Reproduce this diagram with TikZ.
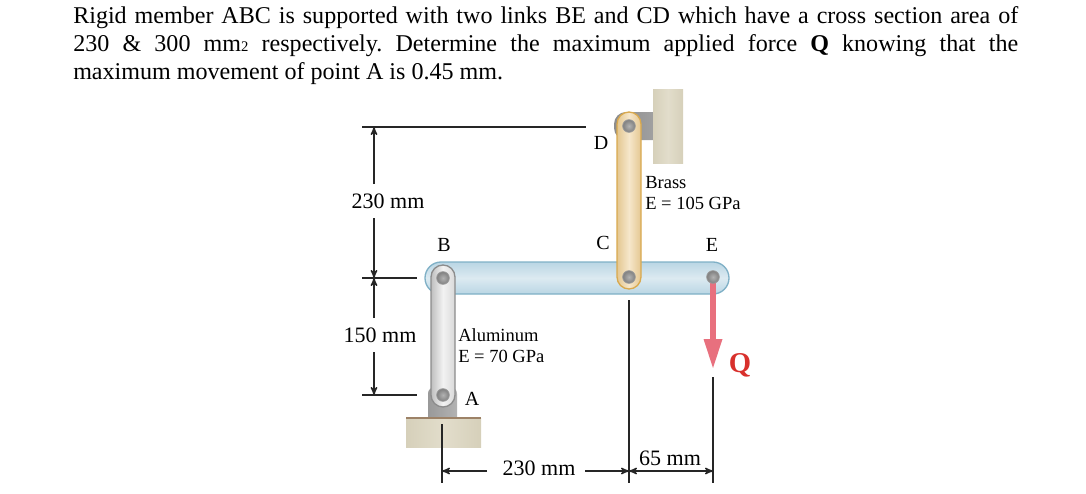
\documentclass[tikz,border=0pt]{standalone}
\usepackage{fontspec}
\setmainfont{Liberation Serif}
\usetikzlibrary{arrows,positioning}

\definecolor{walltan}{HTML}{D6D0BA}
\definecolor{walllight}{HTML}{E2DDCB}
\definecolor{beamblue}{HTML}{BAD6E4}
\definecolor{beamlight}{HTML}{DCEAF1}
\definecolor{beamedge}{HTML}{7FB0C6}
\definecolor{brassdark}{HTML}{E4C791}
\definecolor{brasslight}{HTML}{F6E7CB}
\definecolor{brassedge}{HTML}{D9A94E}
\definecolor{loadred}{HTML}{E8707E}
\definecolor{labelred}{HTML}{D8302C}

\tikzset{
  dimline/.style={draw=black!85, line width=1.1pt},
  dimarrow/.style={dimline, ->, >=stealth'},
  partlabel/.style={font=\fontsize{15}{17}\selectfont, inner sep=0pt},
  dimlabel/.style={font=\fontsize{16.5}{19}\selectfont, inner sep=0pt},
  matlabel/.style={font=\fontsize{13.9}{15}\selectfont, inner sep=0pt, anchor=west},
  pin/.style={draw=black!40, line width=0.6pt, inner color=black!30, outer color=black!50, circle, minimum size=9.5pt, inner sep=0pt},
  wallfill/.style={left color=walltan, right color=walltan, middle color=walllight},
}

\begin{document}
\begin{tikzpicture}[x=0.75pt, y=-0.75pt]
    \useasboundingbox (0,0) rectangle (1086,493);

    % problem text
    \node[anchor=north west, inner sep=0pt, text width=708.75pt, align=justify,
      font=\fontsize{18.05}{21}\selectfont\frenchspacing] (question) at (73,6)
      {Rigid member ABC is supported with two links BE and CD which have a cross section area of\linebreak
       230 \& 300 mm{\fontsize{11}{11}\selectfont 2} respectively. Determine the maximum applied force \textbf{Q} knowing that the\linebreak
       maximum movement of point A is 0.45 mm.};

    % supports
    \shade[left color=black!45, right color=black!35, rounded corners=9pt] (614,112) rectangle (665,140);
    \shade[wallfill] (653,89) rectangle (683,163);
    \shade[left color=black!40, right color=black!30, rounded corners=5pt] (428,430) -- (428,387) -- (457,387) -- (457,430) -- cycle;
    \shade[wallfill] (406,418) rectangle (481,447);
    \draw[draw=brown!60!black!70, line width=1pt] (406,418) -- (481,418);

    % beam
    \shade[top color=beamblue, bottom color=beamblue, middle color=beamlight, rounded corners=12pt]
      (425,262) rectangle (729,294);
    \draw[draw=beamedge, line width=1pt, rounded corners=12pt] (425,262) rectangle (729,294);

    % links
    \shade[left color=black!25, right color=black!15, middle color=black!5, rounded corners=9pt]
      (431,265) rectangle (455,407);
    \draw[draw=black!45, line width=1pt, rounded corners=9pt] (431,265) rectangle (455,407);
    \shade[left color=brassdark, right color=brassdark, middle color=brasslight, rounded corners=9pt]
      (617,112) rectangle (641,289);
    \draw[draw=brassedge, line width=1pt, rounded corners=9pt] (617,112) rectangle (641,289);

    % load
    \coordinate (load_start) at (713,280);
    \coordinate (load_neck) at (713,339);
    \draw[draw=loadred, line width=4.5pt] (load_start) -- (load_neck);
    \fill[loadred] (703.5,339) -- (722.5,339) -- (713,368) -- cycle;

    % pins
    \node[pin] (pin_d) at (629,126) {};
    \node[pin] (pin_c) at (629,277) {};
    \node[pin] (pin_b) at (443,278) {};
    \node[pin] (pin_a) at (443,395) {};
    \node[pin] (pin_e) at (713,277) {};

    % labels
    \node[partlabel] (label_d) at (601,143) {D};
    \node[partlabel] (label_b) at (444,245) {B};
    \node[partlabel] (label_c) at (603,243) {C};
    \node[partlabel] (label_e) at (712,245) {E};
    \node[partlabel] (label_a) at (472,399) {A};
    \node[matlabel] (brass) at (645,183) {Brass};
    \node[matlabel] (brass_e) at (645,203) {E = 105 GPa};
    \node[matlabel] (alu) at (458,335) {Aluminum};
    \node[matlabel] (alu_e) at (458,356) {E = 70 GPa};
    \node[inner sep=0pt, text=labelred, font=\fontsize{21.5}{23}\selectfont\bfseries] (load_q) at (740,365) {Q};

    % extension lines
    \coordinate (ext_d_l) at (362,127);
    \coordinate (ext_d_r) at (586,127);
    \coordinate (ext_b_l) at (362,278);
    \coordinate (ext_b_r) at (417,278);
    \coordinate (ext_a_l) at (362,395);
    \coordinate (ext_a_r) at (417,395);
    \coordinate (ext_x_a) at (442,424);
    \coordinate (ext_x_ab) at (442,483);
    \coordinate (ext_x_c) at (629,300);
    \coordinate (ext_x_cb) at (629,483);
    \coordinate (ext_x_e) at (713,377);
    \coordinate (ext_x_eb) at (713,483);
    \draw[dimline] (ext_d_l) -- (ext_d_r);
    \draw[dimline] (ext_b_l) -- (ext_b_r);
    \draw[dimline] (ext_a_l) -- (ext_a_r);
    \draw[dimline] (ext_x_a) -- (ext_x_ab);
    \draw[dimline] (ext_x_c) -- (ext_x_cb);
    \draw[dimline] (ext_x_e) -- (ext_x_eb);

    % dimensions
    \node[dimlabel] (dim_cd) at (388,201) {230 mm};
    \node[dimlabel] (dim_ab) at (380,335) {150 mm};
    \node[dimlabel] (dim_bc) at (539,468) {230 mm};
    \node[dimlabel] (dim_ce) at (670,458) {65 mm};
    \coordinate (cd_top) at (374,127);
    \coordinate (cd_up) at (374,184);
    \coordinate (cd_down) at (374,218);
    \coordinate (cd_bot) at (374,278);
    \coordinate (ab_top) at (374,278);
    \coordinate (ab_up) at (374,318);
    \coordinate (ab_down) at (374,352);
    \coordinate (ab_bot) at (374,395);
    \coordinate (bc_l) at (442,471);
    \coordinate (bc_ll) at (487,471);
    \coordinate (bc_rr) at (585,471);
    \coordinate (bc_r) at (629,471);
    \coordinate (ce_l) at (629,471);
    \coordinate (ce_r) at (713,471);
    \draw[dimarrow] (cd_up) -- (cd_top);
    \draw[dimarrow] (cd_down) -- (cd_bot);
    \draw[dimarrow] (ab_up) -- (ab_top);
    \draw[dimarrow] (ab_down) -- (ab_bot);
    \draw[dimarrow] (bc_ll) -- (bc_l);
    \draw[dimarrow] (bc_rr) -- (bc_r);
    \draw[dimarrow, <->] (ce_l) -- (ce_r);

\end{tikzpicture}
\end{document}
